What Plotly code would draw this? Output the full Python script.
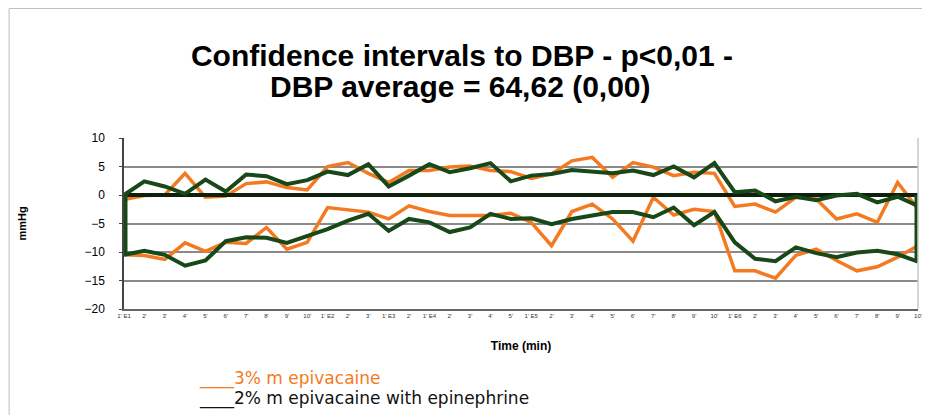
import plotly.graph_objects as go

categories = ["1' E1", "2'", "3'", "4'", "5'", "6'", "7'", "8'", "9'", "10'",
              "1' E2", "2'", "3'",
              "1' E3", "2'",
              "1' E4", "2'", "3'", "4'", "5'",
              "1' E5", "2'", "3'", "4'", "5'", "6'", "7'", "8'", "9'", "10'",
              "1' E6", "2'", "3'", "4'", "5'", "6'", "7'", "8'", "9'", "10'"]

orange_upper = [-0.8, -0.1, 0.0, 3.8, -0.4, -0.2, 2.0, 2.3, 1.3, 0.9,
                5.0, 5.7, 3.8, 2.2, 4.3, 4.3, 4.9, 5.1, 4.3, 4.1,
                2.9, 3.7, 6.0, 6.6, 3.1, 5.7, 4.9, 3.4, 4.0, 3.8,
                -2.0, -1.6, -3.0, -0.4, -0.7, -4.2, -3.3, -4.8, 2.2, -2.5]
orange_lower = [-10.5, -10.6, -11.3, -8.4, -9.9, -8.3, -8.5, -5.7, -9.5, -8.3,
                -2.2, -2.6, -3.0, -4.2, -1.9, -2.9, -3.6, -3.6, -3.6, -3.2,
                -4.8, -8.9, -2.9, -1.6, -4.2, -8.1, -0.4, -3.5, -2.5, -2.9,
                -13.3, -13.3, -14.6, -10.6, -9.5, -11.5, -13.3, -12.6, -10.9, -8.9]
green_upper = [0.0, 2.4, 1.5, 0.2, 2.7, 0.6, 3.6, 3.3, 1.9, 2.6,
               4.1, 3.5, 5.4, 1.5, 3.4, 5.4, 4.0, 4.7, 5.6, 2.4,
               3.4, 3.7, 4.4, 4.1, 3.8, 4.3, 3.5, 5.0, 3.1, 5.6,
               0.5, 0.8, -1.1, -0.3, -0.9, -0.1, 0.2, -1.3, -0.3, -1.9]
green_lower = [-10.5, -9.8, -10.5, -12.4, -11.5, -8.1, -7.4, -7.5, -8.4, -7.2,
               -6.0, -4.5, -3.3, -6.3, -4.2, -4.8, -6.5, -5.7, -3.3, -4.2,
               -4.1, -5.1, -4.2, -3.6, -3.0, -3.0, -3.9, -2.2, -5.3, -3.0,
               -8.3, -11.2, -11.6, -9.2, -10.2, -10.9, -10.1, -9.8, -10.4, -11.7]
y_ticks = [10, 5, 0, -5, -10, -15, -20]

ORANGE = "#f47a22"
GREEN = "#184818"
xs = list(range(len(categories)))
last = len(categories) - 1

fig = go.Figure()
fig.add_trace(go.Scatter(x=xs, y=orange_upper, mode="lines",
                         line=dict(color=ORANGE, width=3.5), showlegend=False))
fig.add_trace(go.Scatter(x=xs, y=orange_lower, mode="lines",
                         line=dict(color=ORANGE, width=3.5), showlegend=False))
# zero (average) line
fig.add_trace(go.Scatter(x=[0, last], y=[0, 0],
                         mode="lines", line=dict(color="#0c200c", width=4),
                         showlegend=False))
# end verticals (half clipped by the plot edge, hence the double width)
fig.add_trace(go.Scatter(x=[0, 0, None, last, last],
                         y=[green_lower[0], 0, None, 0, green_lower[-1]],
                         mode="lines", line=dict(color=GREEN, width=7),
                         showlegend=False))
fig.add_trace(go.Scatter(x=xs, y=green_upper, mode="lines",
                         line=dict(color=GREEN, width=4), showlegend=False))
fig.add_trace(go.Scatter(x=xs, y=green_lower, mode="lines",
                         line=dict(color=GREEN, width=4), showlegend=False))

FONT = "Liberation Sans, Arial, sans-serif"
LFONT = "DejaVu Sans, Verdana, sans-serif"

W, H = 922, 407
L, R, T, B = 116, 8, 130, 106
PW, PH = W - L - R, H - T - B


def px(xp):
    return (xp - L) / PW


def py(yp):
    return (T + PH - yp) / PH


fig.update_layout(
    width=W, height=H,
    margin=dict(l=L, r=R, t=T, b=B),
    paper_bgcolor="white", plot_bgcolor="white",
    font=dict(family=FONT, color="black"),
    title=dict(text="<b>Confidence intervals to DBP - p<0,01 -</b>",
               x=454 / W, xanchor="center", y=1 - 47 / H, yanchor="middle",
               font=dict(size=30, family=FONT, color="black")),
    xaxis=dict(range=[0, last], tickmode="array", tickvals=xs, ticktext=categories,
               tickangle=0, tickfont=dict(size=6, color="#333333"),
               showgrid=False, zeroline=False, showline=True, linecolor="#666666",
               linewidth=1.5, ticks="", fixedrange=True,
               title=dict(text="<b>Time (min)</b>", font=dict(size=12), standoff=24)),
    yaxis=dict(range=[-20, 10], tickmode="array", tickvals=y_ticks,
               tickfont=dict(size=12, color="black"),
               showgrid=True, gridcolor="#8a8a8a", gridwidth=1.5,
               zeroline=False, showline=True, linecolor="#444444", linewidth=1.5,
               ticks="outside", ticklen=3, tickcolor="#444444",
               ticklabelstandoff=12,
               title=dict(text="<b>mmHg</b>", font=dict(size=11), standoff=56)),
    shapes=[
        dict(type="line", xref="paper", yref="paper", x0=1, x1=1, y0=0, y1=1,
             line=dict(color="#c8c8c8", width=1.5)),
        dict(type="rect", xref="paper", yref="paper", x0=px(0.5), x1=px(W - 2),
             y0=py(H + 20), y1=py(0.5), line=dict(color="#c0c0c0", width=1)),
    ],
    annotations=[
        dict(text="<b>DBP average = 64,62 (0,00)</b>", xref="paper", yref="paper",
             x=px(454), y=py(78), xanchor="center", yanchor="middle",
             showarrow=False, font=dict(size=30, color="black", family=FONT)),
        dict(text="____3% m epivacaine", xref="paper", yref="paper",
             x=px(189), y=py(370), xanchor="left", yanchor="middle",
             showarrow=False, font=dict(size=17, color=ORANGE, family=LFONT)),
        dict(text="____2% m epivacaine with epinephrine", xref="paper", yref="paper",
             x=px(189), y=py(390), xanchor="left", yanchor="middle",
             showarrow=False, font=dict(size=17, color="#111111", family=LFONT)),
    ],
)

fig.write_html("out.html")
